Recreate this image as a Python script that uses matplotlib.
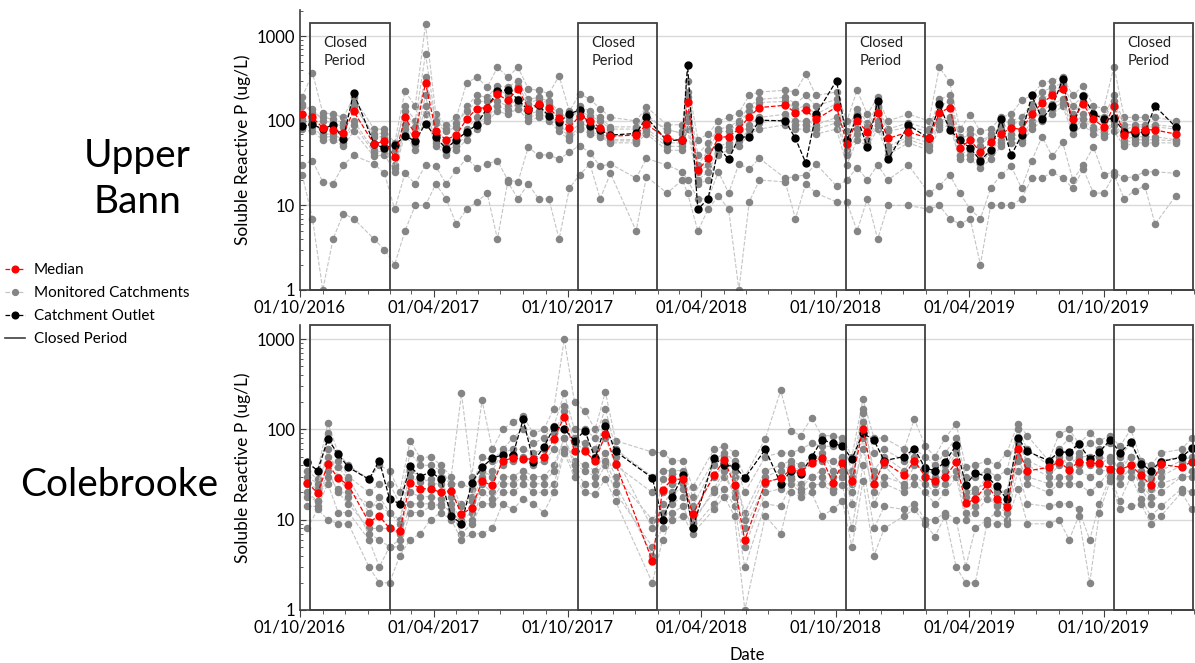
import datetime as dt
import matplotlib
matplotlib.use("Agg")
import matplotlib.pyplot as plt
import matplotlib.dates as mdates
from matplotlib.patches import Rectangle
from matplotlib.lines import Line2D
from matplotlib.ticker import NullFormatter, LogLocator

plt.rcParams['font.family'] = ['Lato', 'DejaVu Sans']

# ---- Upper Bann: fortnightly samples (ug/L) ----
ub_dates = [
    '2016-10-04', '2016-10-18', '2016-11-01', '2016-11-15', '2016-11-29', '2016-12-13',
    '2017-01-10', '2017-01-24', '2017-02-07', '2017-02-21', '2017-03-07', '2017-03-21',
    '2017-04-04', '2017-04-18', '2017-05-02', '2017-05-16', '2017-05-30', '2017-06-13',
    '2017-06-27', '2017-07-11', '2017-07-25', '2017-08-08', '2017-08-22', '2017-09-05',
    '2017-09-19', '2017-10-03', '2017-10-17', '2017-10-31', '2017-11-14', '2017-11-28',
    '2018-01-02', '2018-01-16', '2018-02-13', '2018-03-06', '2018-03-13', '2018-03-27',
    '2018-04-10', '2018-04-24', '2018-05-08', '2018-05-22', '2018-06-05', '2018-06-19',
    '2018-07-24', '2018-08-07', '2018-08-21', '2018-09-04', '2018-10-02', '2018-10-16',
    '2018-10-30', '2018-11-13', '2018-11-27', '2018-12-11', '2019-01-08', '2019-02-05',
    '2019-02-19', '2019-03-05', '2019-03-19', '2019-04-02', '2019-04-16', '2019-04-30',
    '2019-05-14', '2019-05-28', '2019-06-11', '2019-06-25', '2019-07-09', '2019-07-23',
    '2019-08-06', '2019-08-20', '2019-09-03', '2019-09-17', '2019-10-01', '2019-10-15',
    '2019-10-29', '2019-11-12', '2019-11-26', '2019-12-10', '2020-01-07']
ub_median = [122, 110, 83, 79, 72, 130, 53, 58, 37, 110, 70, 283, 75, 60, 68, 105, 140, 144,
             207, 175, 240, 140, 160, 144, 107, 83, 115, 100, 83, 66, 68, 91, 62, 59, 168, 26,
             36, 64, 65, 80, 112, 144, 153, 125, 135, 104, 146, 54, 100, 74, 124, 62, 74, 62,
             124, 144, 48, 59, 43, 56, 70, 83, 79, 120, 163, 200, 240, 104, 157, 104, 85, 149,
             68, 78, 79, 78, 70]
ub_outlet = [86, 91, 80, 90, 61, 216, 53, 48, 52, 66, 58, 93, 64, 47, 60, 74, 90, 144,
             226, 234, 178, 134, 153, 115, 98, 120, 136, 87, 78, 68, 71, 110, 58, 60, 455, 9,
             12, 49, 35, 64, 65, 102, 100, 62, 32, 120, 300, 59, 110, 49, 172, 35, 89, 62,
             157, 79, 59, 48, 34, 45, 105, 39, 68, 200, 105, 149, 310, 85, 195, 122, 104, 107,
             74, 72, 74, 149, 85]
ub_c1 = [190, 370, 125, 120, 110, 190, 80, 80, 55, 225, 150, 1400, 120, 90, 110, 280, 330, 250,
         430, 330, 430, 240, 230, 210, 340, 130, 210, 180, 140, 110, 100, 146, 90, 90, 300, 60,
         70, 100, 110, 125, 200, 220, 230, 220, 360, 200, 220, 100, 230, 120, 190, 100, 120, 100,
         430, 290, 80, 119, 75, 80, 110, 120, 175, 200, 280, 300, 330, 200, 260, 150, 140, 440,
         110, 110, 110, 110, 100]
ub_c2 = [150, 140, 100, 95, 85, 160, 65, 65, 45, 150, 100, 620, 95, 75, 85, 150, 200, 190,
         260, 250, 300, 180, 190, 170, 130, 100, 150, 130, 110, 85, 85, 120, 75, 75, 220, 40,
         55, 80, 85, 100, 150, 180, 190, 160, 200, 150, 180, 75, 140, 95, 150, 80, 95, 80,
         180, 200, 65, 80, 60, 65, 90, 100, 110, 160, 220, 250, 280, 150, 200, 125, 110, 200,
         90, 90, 90, 90, 85]
ub_c3 = [105, 100, 70, 70, 60, 100, 45, 50, 30, 90, 60, 200, 60, 50, 55, 80, 110, 120,
         170, 150, 180, 120, 130, 120, 90, 70, 95, 85, 75, 60, 60, 80, 55, 55, 120, 25,
         30, 50, 55, 65, 90, 110, 120, 100, 100, 90, 110, 45, 80, 60, 100, 50, 65, 55,
         100, 110, 40, 45, 35, 45, 60, 70, 65, 100, 130, 160, 180, 90, 120, 85, 75, 100,
         60, 65, 65, 65, 60]
ub_c4 = [80, 75, 60, 60, 50, 75, 38, 40, 25, 70, 45, 120, 50, 40, 45, 60, 80, 100,
         130, 120, 140, 100, 110, 100, 75, 60, 80, 70, 65, 55, 55, 70, 45, 45, 80, 18,
         20, 40, 45, 50, 70, 80, 90, 80, 80, 70, 80, 30, 60, 50, 80, 40, 55, 45,
         80, 90, 35, 35, 28, 35, 50, 55, 55, 80, 100, 120, 150, 70, 90, 70, 65, 75,
         50, 55, 55, 55, 55]
ub_c5 = [30, 34, 19, 18, 30, 39, 31, 24, 9, 24, 18, 30, 29, 18, 26, 36, 28, 31,
         34, 20, 19, 49, 39, 40, 35, 43, 51, 42, 29, 31, 21, 36, 30, 25, 20, 12,
         12, 25, 14, 31, 27, 36, 21, 22, 23, 31, 17, 20, 28, 20, 30, 20, 30, 14,
         17, 23, 14, 9, 7, 16, 23, 29, 16, 34, 65, 38, 56, 20, 30, 49, 23, 25,
         21, 22, 25, 25, 24]
ub_c6 = [23, 7, 1, 4, 8, 7, 4, 3, 2, 5, 10, 10, 18, 12, 6, 9, 11, 14,
         4, 19, 12, 18, 12, 12, 4, 16, 23, 31, 12, 24, 5, 22, 14, 20, 14, 5,
         9, 13, 9, 1, 11, 20, 19, 7, 18, 14, 11, 11, 5, 12, 4, 10, 10, 9,
         10, 7, 6, 7, 2, 10, 10, 10, 12, 21, 21, 25, 21, 16, 27, 14, 14, 23,
         12, 15, 17, 6, 13]
ub_c7 = [160, 125, 110, 105, 95, 150, 70, 72, 50, 130, 85, 330, 100, 80, 95, 130, 170, 170,
         240, 200, 260, 160, 180, 160, 120, 110, 130, 115, 100, 80, 80, 110, 80, 70, 190, 30,
         45, 75, 75, 95, 130, 165, 170, 140, 150, 120, 160, 60, 120, 85, 140, 75, 85, 75,
         150, 170, 60, 70, 50, 70, 80, 95, 95, 140, 180, 220, 260, 120, 170, 115, 100, 170,
         80, 85, 85, 85, 80]
ub_c8 = [95, 85, 65, 65, 55, 90, 42, 45, 28, 80, 52, 150, 55, 45, 50, 70, 95, 110,
         150, 135, 160, 110, 120, 110, 85, 65, 85, 75, 68, 58, 58, 75, 50, 50, 100, 20,
         25, 45, 50, 58, 80, 95, 105, 90, 90, 80, 95, 40, 70, 55, 90, 45, 60, 50,
         90, 100, 38, 40, 32, 42, 55, 62, 60, 90, 115, 140, 165, 80, 105, 80, 70, 90,
         55, 60, 60, 60, 58]

# ---- Colebrooke: fortnightly samples (ug/L) ----
cb_dates = [
    '2016-10-11', '2016-10-25', '2016-11-08', '2016-11-22', '2016-12-06', '2017-01-03',
    '2017-01-17', '2017-01-31', '2017-02-14', '2017-02-28', '2017-03-14', '2017-03-28',
    '2017-04-11', '2017-04-25', '2017-05-09', '2017-05-23', '2017-06-06', '2017-06-20',
    '2017-07-04', '2017-07-18', '2017-08-01', '2017-08-15', '2017-08-29', '2017-09-12',
    '2017-09-26', '2017-10-10', '2017-10-24', '2017-11-07', '2017-11-21', '2017-12-05',
    '2018-01-24', '2018-02-07', '2018-02-20', '2018-03-07', '2018-03-20', '2018-04-18',
    '2018-05-02', '2018-05-16', '2018-05-30', '2018-06-27', '2018-07-18', '2018-08-01',
    '2018-08-14', '2018-08-29', '2018-09-12', '2018-09-27', '2018-10-10', '2018-10-23',
    '2018-11-07', '2018-11-22', '2018-12-06', '2019-01-02', '2019-01-16', '2019-01-31',
    '2019-02-13', '2019-02-27', '2019-03-14', '2019-03-27', '2019-04-09', '2019-04-25',
    '2019-05-08', '2019-05-22', '2019-06-06', '2019-06-19', '2019-07-18', '2019-08-01',
    '2019-08-15', '2019-08-28', '2019-09-12', '2019-09-25', '2019-10-10', '2019-10-23',
    '2019-11-07', '2019-11-21', '2019-12-04', '2019-12-18', '2020-01-15', '2020-01-29']
cb_median = [25.7, 19.7, 41, 29, 24, 9.4, 11, 8, 7.4, 25.7, 22, 22, 20, 21, 11.5, 13.5, 26.5, 24,
             45, 48, 47, 47, 49, 79, 137, 57, 57, 44.6, 88, 41.6, 3.5, 21.5, 28, 28, 11.5, 31,
             46, 24, 5.9, 26, 28.8, 36, 34, 42, 48, 25.7, 42, 26.5, 102, 25, 43.5, 31, 45, 30,
             26.5, 30, 43, 15.3, 16.8, 24.6, 17, 13.8, 60, 34.6, 38, 43.5, 35.8, 44, 42, 42,
             36.7, 35.8, 40, 31, 24, 41, 38, 44]
cb_outlet = [43, 35, 78, 53, 38, 28, 45, 17, 15, 39, 30, 34, 28, 11, 9, 25.7, 38, 48,
             52, 52, 129, 44, 63, 106, 102, 74, 97, 48, 110, 57, 29, 10, 18, 31, 8, 48,
             40, 39, 29, 60, 25, 35, 32, 49, 77, 70, 65, 47, 91, 75.5, 45, 50, 61, 37,
             35, 44, 66.5, 24, 33, 30, 23.6, 16.8, 81, 57, 45, 56, 56, 69, 47, 56,
             77, 55, 72, 41.7, 35, 44, 49, 62]
cb_c1 = [42, 35, 117, 55, 40, 28, 40, 35, 20, 75, 48, 50, 40, 30, 250, 30, 210, 60,
         100, 120, 140, 90, 100, 170, 1000, 200, 160, 100, 260, 75, 56, 55, 45, 45, 23, 60,
         65, 55, 30, 79, 270, 97, 85, 135, 85, 85, 80, 50, 215, 80, 80, 60, 130, 65,
         50, 80, 115, 38, 40, 45, 40, 55, 115, 85, 45, 88, 100, 70, 90, 75,
         85, 65, 100, 45, 40, 55, 60, 80]
cb_c2 = [35, 28, 90, 45, 30, 20, 25, 25, 15, 55, 40, 40, 35, 25, 25, 22, 50, 45,
         60, 80, 100, 70, 80, 110, 250, 100, 100, 80, 170, 60, 30, 35, 35, 35, 18, 45,
         55, 45, 20, 50, 55, 55, 60, 70, 65, 65, 70, 35, 170, 55, 60, 45, 60, 50,
         40, 55, 80, 30, 30, 35, 30, 35, 100, 60, 40, 60, 80, 55, 70, 60,
         70, 50, 70, 40, 30, 45, 50, 60]
cb_c3 = [25, 22, 60, 30, 20, 15, 14, 12, 10, 35, 30, 25, 25, 18, 15, 18, 35, 30,
         40, 45, 50, 40, 45, 60, 180, 70, 60, 50, 80, 40, 20, 20, 25, 25, 12, 30,
         40, 30, 12, 35, 40, 45, 40, 50, 45, 45, 50, 25, 150, 30, 40, 23, 40, 35,
         25, 35, 55, 20, 22, 25, 20, 20, 80, 40, 30, 40, 50, 40, 40, 40,
         50, 35, 50, 30, 22, 30, 40, 45]
cb_c4 = [18, 16, 35, 20, 15, 8, 8, 8, 7, 20, 18, 18, 17, 15, 10, 12, 25, 20,
         30, 30, 35, 30, 30, 40, 80, 45, 40, 35, 55, 30, 10, 12, 15, 18, 10, 20,
         30, 20, 8, 25, 30, 30, 25, 30, 35, 30, 35, 15, 80, 15, 25, 20, 25, 20,
         15, 20, 30, 10, 12, 17, 15, 15, 50, 25, 20, 25, 25, 25, 20, 25,
         35, 25, 40, 22, 15, 20, 30, 30]
cb_c5 = [14, 14, 25, 12, 12, 6, 3, 5, 5, 12, 12, 14, 15, 12, 7, 9, 15, 15,
         20, 20, 25, 20, 20, 25, 60, 35, 25, 25, 40, 20, 5, 8, 12, 14, 8, 15,
         22, 14, 3, 15, 14, 25, 20, 24, 25, 20, 24, 8, 40, 8, 14, 13, 15, 10,
         10, 12, 10, 3, 8, 10, 12, 10, 35, 15, 14, 15, 15, 13, 6, 15,
         30, 16, 30, 17, 11, 14, 22, 20]
cb_c6 = [8, 13, 10, 9, 9, 3, 2, 2, 4, 6, 7, 10, 12, 10, 6, 7, 7, 8,
         15, 13, 17, 15, 12, 20, 55, 30, 20, 19, 28, 16, 2, 6, 10, 11, 7, 13,
         18, 11, 1, 11, 7, 20, 18, 20, 11, 13, 16, 5, 27, 4, 8, 11, 13, 9,
         6.5, 11, 3, 2, 2, 9, 9, 9, 22, 9, 9, 10, 6, 11, 2, 12,
         27, 13, 14, 15, 9, 11, 20, 13]
cb_c7 = [30, 25, 50, 38, 28, 12, 18, 12, 9, 30, 26, 28, 30, 25, 14, 16, 30, 35,
         55, 60, 60, 55, 60, 90, 160, 80, 70, 60, 120, 50, 8, 28, 32, 32, 14, 40,
         50, 35, 10, 30, 35, 40, 35, 45, 55, 35, 45, 30, 120, 35, 50, 35, 50, 38,
         30, 40, 60, 18, 20, 30, 22, 20, 70, 45, 35, 50, 40, 50, 50, 50,
         45, 40, 50, 35, 28, 35, 45, 50]
cb_c8 = [20, 16, 30, 22, 18, 7, 6, 5, 6, 15, 15, 15, 14, 13, 9, 10, 20, 17,
         25, 25, 30, 25, 25, 35, 80, 40, 35, 30, 45, 25, 4, 15, 20, 22, 9, 22,
         35, 18, 5, 20, 22, 28, 22, 30, 30, 22, 30, 20, 60, 20, 30, 25, 30, 25,
         20, 25, 35, 12, 14, 20, 14, 12, 45, 30, 25, 30, 30, 35, 30, 35,
         35, 30, 35, 25, 18, 25, 30, 35]

closed_starts = ['2016-10-15', '2017-10-15', '2018-10-15', '2019-10-15']
closed_ends = ['2017-01-31', '2018-01-31', '2019-01-31', '2020-01-31']


def to_dates(strings):
    return [dt.datetime.strptime(s, '%Y-%m-%d') for s in strings]


def draw_panel(ax, dates, median, outlet, catchments, ytop, show_text):
    x = to_dates(dates)
    for c in catchments:
        ax.plot(x, c, linestyle='--', color='#c4c4c4', lw=0.8, marker='o', ms=4.4,
                mfc='#858585', mec='#858585', zorder=2)
    ax.plot(x, outlet, linestyle='--', color='black', lw=0.9, marker='o', ms=5,
            mfc='black', mec='black', zorder=4)
    ax.plot(x, median, linestyle='--', color='red', lw=0.9, marker='o', ms=5,
            mfc='red', mec='red', zorder=5)

    rect_top = 1430
    for s, e in zip(to_dates(closed_starts), to_dates(closed_ends)):
        x0 = mdates.date2num(s)
        x1 = mdates.date2num(e)
        ax.add_patch(Rectangle((x0, 1), x1 - x0, rect_top - 1, fill=False,
                               ec='#404040', lw=1.3, zorder=6, clip_on=False))
        if show_text:
            ax.text(x0 + 18, 1000, 'Closed\nPeriod', ha='left', va='top',
                    fontsize=10.5, linespacing=1.3, color='#222222')

    ax.set_yscale('log')
    ax.set_ylim(1, ytop)
    ax.set_xlim(dt.datetime(2016, 10, 1), dt.datetime(2020, 2, 1))
    ax.set_yticks([1, 10, 100, 1000], labels=['1', '10', '100', '1000'])
    ax.yaxis.set_minor_locator(LogLocator(base=10, subs=range(2, 10)))
    ax.yaxis.set_minor_formatter(NullFormatter())
    ax.yaxis.grid(True, which='major', color='#d9d9d9', lw=1)
    ax.set_axisbelow(True)

    ax.xaxis.set_major_locator(mdates.MonthLocator(bymonth=[4, 10], bymonthday=1))
    ax.xaxis.set_minor_locator(mdates.MonthLocator())
    ax.xaxis.set_major_formatter(mdates.DateFormatter('%d/%m/%Y'))

    for side in ['top', 'right']:
        ax.spines[side].set_visible(False)
    for side in ['left', 'bottom']:
        ax.spines[side].set_color('#404040')
        ax.spines[side].set_linewidth(1.2)
    ax.tick_params(axis='x', which='major', length=5, color='#404040', labelsize=12, pad=2)
    ax.tick_params(axis='x', which='minor', length=3, color='#404040')
    ax.tick_params(axis='y', which='major', length=4, direction='in', color='#404040', labelsize=12)
    ax.tick_params(axis='y', which='minor', length=2.5, direction='in', color='#404040')
    ax.set_ylabel('Soluble Reactive P (ug/L)', fontsize=12.5, labelpad=4)


def main():
    fig = plt.figure(figsize=(11.95, 6.63), dpi=100)
    ax_top = fig.add_axes([300 / 1195, 1 - 290 / 663, 894 / 1195, 280 / 663])
    ax_bot = fig.add_axes([300 / 1195, 1 - 610 / 663, 894 / 1195, 285 / 663])

    draw_panel(ax_top, ub_dates, ub_median, ub_outlet,
               [ub_c1, ub_c2, ub_c3, ub_c4, ub_c5, ub_c6, ub_c7, ub_c8], 2050, True)
    draw_panel(ax_bot, cb_dates, cb_median, cb_outlet,
               [cb_c1, cb_c2, cb_c3, cb_c4, cb_c5, cb_c6, cb_c7, cb_c8], 1430, False)

    fig.text(137 / 1195, 1 - 179 / 663, 'Upper\nBann', ha='center', va='center',
             fontsize=28, linespacing=1.35)
    fig.text(119 / 1195, 1 - 485 / 663, 'Colebrooke', ha='center', va='center', fontsize=28)
    fig.text(747 / 1195, 1 - 655 / 663, 'Date', ha='center', va='center', fontsize=12)

    handles = [
        Line2D([], [], linestyle='--', color='red', lw=0.9, marker='o', ms=4.8),
        Line2D([], [], linestyle='--', color='#c4c4c4', lw=0.9, marker='o', ms=4.2,
               mfc='#858585', mec='#858585'),
        Line2D([], [], linestyle='--', color='black', lw=0.9, marker='o', ms=4.8),
        Line2D([], [], linestyle='-', color='#404040', lw=1.2),
    ]
    labels = ['Median', 'Monitored Catchments', 'Catchment Outlet', 'Closed Period']
    fig.legend(handles, labels, loc='upper left', bbox_to_anchor=(0.004, 1 - 263 / 663),
               frameon=False, fontsize=11, handlelength=1.3, handletextpad=0.6,
               labelspacing=0.6, borderaxespad=0, borderpad=0)

    fig.savefig('out.png', dpi=100)


if __name__ == "__main__":
    main()
